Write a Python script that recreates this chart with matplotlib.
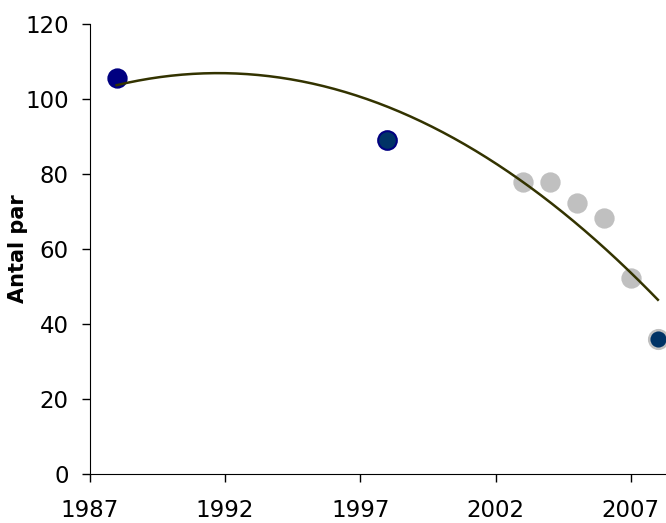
import numpy as np
import matplotlib.pyplot as plt

# data
years_early = [1988, 1998]
pairs_early = [105.5, 89]
years_recent = [2003, 2004, 2005, 2006, 2007]
pairs_recent = [78, 78, 72.3, 68.3, 52.3]
years_last = [2008]
pairs_last = [36]
x_ticks = [1987, 1992, 1997, 2002, 2007]
y_ticks = [0, 20, 40, 60, 80, 100, 120]


def main():
    fig = plt.figure(figsize=(6.66, 5.23), dpi=100)
    ax = fig.add_axes([0.1345, 0.0937, 0.8655, 0.8604])

    # polynomial trend (order 2) over all years
    all_x = np.array(years_early + years_recent + years_last, dtype=float)
    all_y = np.array(pairs_early + pairs_recent + pairs_last, dtype=float)
    coef = np.polyfit(all_x - 1998, all_y, 2)
    xs = np.linspace(1988, 2008, 200)
    ax.plot(xs, np.polyval(coef, xs - 1998), color='#333300', lw=1.8, zorder=3)

    ax.scatter(years_early[:1], pairs_early[:1], s=180, color='#000080',
               edgecolors='#000080', linewidths=1.2, zorder=2)
    ax.scatter(years_early[1:], pairs_early[1:], s=180, color='#003366',
               edgecolors='#000080', linewidths=1.5, zorder=2)
    ax.scatter(years_recent, pairs_recent, s=180, color='#c0c0c0',
               edgecolors='#c0c0c0', linewidths=1.2, zorder=2)
    ax.scatter(years_last, pairs_last, s=180, color='#003366',
               edgecolors='#c0c0c0', linewidths=1.8, zorder=4, clip_on=False)

    ax.set_xlim(1987, 2008.3)
    ax.set_ylim(0, 120)
    ax.set_xticks(x_ticks)
    ax.set_yticks(y_ticks)
    ax.tick_params(labelsize=16.5, length=6, width=1, direction='out')
    ax.tick_params(axis='x', pad=12)
    ax.tick_params(axis='y', pad=9)
    ax.spines['top'].set_visible(False)
    ax.spines['right'].set_visible(False)
    ax.set_ylabel('Antal par', fontsize=15, fontweight='bold')
    ax.yaxis.set_label_coords(-0.107, 0.5)

    fig.savefig('out.png', dpi=100)


if __name__ == '__main__':
    main()
